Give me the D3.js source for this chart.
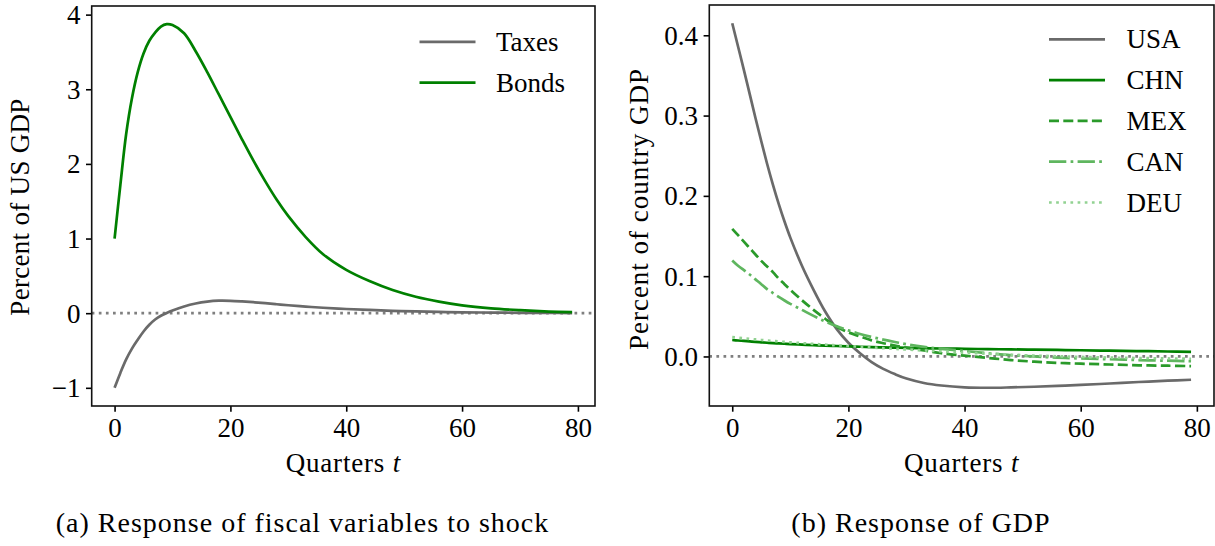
<!DOCTYPE html>
<html><head><meta charset="utf-8">
<script src="https://cdn.jsdelivr.net/npm/d3@7"></script>
<style>
body{margin:0;background:#fff}
svg text{font-family:"Liberation Serif","Times New Roman",serif;fill:#000}
</style>
</head><body>
<svg id="chart" width="1215" height="546"></svg>
<script>
// ---------- data ----------
const quarters = [0,1,2,3,4,5,6,7,8,9,10,12,14,16,18,20,22,24,26,28,30,33,36,40,44,48,52,56,60,65,70,75,79];

const taxes = [-1.00,-0.80,-0.62,-0.475,-0.355,-0.245,-0.155,-0.085,-0.035,0.002,0.035,0.09,0.13,0.155,0.167,0.166,0.158,0.147,0.134,0.12,0.106,0.088,0.073,0.056,0.043,0.032,0.024,0.017,0.012,0.008,0.005,0.003,0.002];
const bonds = [1.00,1.72,2.40,2.88,3.23,3.48,3.65,3.76,3.84,3.872,3.86,3.75,3.51,3.23,2.93,2.63,2.33,2.04,1.77,1.52,1.30,1.02,0.79,0.58,0.43,0.31,0.22,0.155,0.105,0.065,0.04,0.022,0.013];

const usa = [0.415,0.386,0.357,0.327,0.297,0.268,0.240,0.214,0.190,0.168,0.148,0.113,0.083,0.056,0.034,0.017,0.004,-0.007,-0.0155,-0.022,-0.0275,-0.033,-0.0362,-0.0385,-0.039,-0.0385,-0.0377,-0.0367,-0.0355,-0.0337,-0.0318,-0.0302,-0.029];
const chn = [0.0205,0.0199,0.0193,0.0187,0.0181,0.0176,0.0171,0.0166,0.0162,0.0158,0.0154,0.0147,0.0141,0.0135,0.013,0.0125,0.0121,0.0117,0.0113,0.011,0.0107,0.0103,0.0099,0.0095,0.0091,0.0088,0.0084,0.0081,0.0077,0.0072,0.0067,0.0062,0.0058];
const mex = [0.159,0.151,0.143,0.135,0.127,0.119,0.112,0.105,0.097,0.090,0.083,0.070,0.058,0.047,0.037,0.030,0.025,0.020,0.0165,0.0135,0.011,0.0075,0.004,0.001,-0.0018,-0.0045,-0.0065,-0.008,-0.009,-0.010,-0.011,-0.0115,-0.012];
const can = [0.1196,0.113,0.1075,0.102,0.096,0.090,0.0838,0.079,0.0742,0.0697,0.0655,0.058,0.0505,0.0435,0.0375,0.0325,0.028,0.0243,0.021,0.018,0.0152,0.012,0.0095,0.0068,0.004,0.0015,0.0,-0.0015,-0.0025,-0.0035,-0.0045,-0.0053,-0.006];
const deu = [0.024,0.0233,0.0226,0.0219,0.0212,0.0205,0.0199,0.0193,0.0187,0.0181,0.0176,0.0166,0.0156,0.0147,0.0138,0.013,0.0121,0.0112,0.0103,0.0095,0.0087,0.0075,0.0063,0.0048,0.0034,0.0022,0.0011,0.0002,-0.0006,-0.0014,-0.002,-0.0025,-0.0029];

const xTicks = [0,20,40,60,80];
const fiscalYTicks = [-1,0,1,2,3,4];
const gdpYTicks = [0.0,0.1,0.2,0.3,0.4];
const fiscalNames = ["Taxes","Bonds"];
const gdpNames = ["USA","CHN","MEX","CAN","DEU"];

// ---------- drawing ----------
const svg = d3.select("#chart");
const FS = 27;

function panel(cfg){
  const g = svg.append("g");
  const all = cfg.series.flatMap(s => s.values);
  const ext = d3.extent(all);
  const pad = (ext[1]-ext[0])*0.05;
  const xExt = d3.extent(quarters);
  const xPad = (xExt[1]-xExt[0])*0.05;
  const x = d3.scaleLinear().domain([xExt[0]-xPad, xExt[1]+xPad]).range([cfg.x0, cfg.x1]);
  const y = d3.scaleLinear().domain([ext[0]-pad, ext[1]+pad]).range([cfg.y1, cfg.y0]);

  // zero line
  g.append("line")
    .attr("x1", cfg.x0).attr("x2", cfg.x1)
    .attr("y1", y(0)).attr("y2", y(0))
    .attr("stroke", "#7f7f7f").attr("stroke-width", 2.7)
    .attr("stroke-dasharray", "2.7,4.4");

  const line = d3.line().curve(d3.curveCatmullRom.alpha(0.5))
    .x((d,i) => x(quarters[i])).y(d => y(d));

  cfg.series.forEach(s => {
    g.append("path").datum(s.values)
      .attr("d", line)
      .attr("fill", "none")
      .attr("stroke", s.color)
      .attr("stroke-width", 2.7)
      .attr("stroke-dasharray", s.dash || null);
  });

  // axes via d3
  const xAxis = d3.axisBottom(x).tickValues(xTicks).tickSize(5.7).tickPadding(7).tickFormat(d3.format("d"));
  const yAxis = d3.axisLeft(y).tickValues(cfg.yTicks).tickSize(5.7).tickPadding(5.5).tickFormat(cfg.yFormat);
  const gx = g.append("g").attr("transform", `translate(0,${cfg.y1})`).call(xAxis);
  const gy = g.append("g").attr("transform", `translate(${cfg.x0},0)`).call(yAxis);
  [gx, gy].forEach(a => {
    a.select(".domain").remove();
    a.selectAll(".tick line").attr("stroke", "#000").attr("stroke-width", 1.6);
    a.selectAll(".tick text").attr("font-size", FS).attr("font-family", "Liberation Serif").attr("fill", "#000");
  });
  gx.selectAll(".tick text").attr("dy", null).attr("y", 5.7 + 7 + 18.5);
  gy.selectAll(".tick text").attr("dy", null).attr("y", 9);

  // spines
  g.append("rect")
    .attr("x", cfg.x0).attr("y", cfg.y0)
    .attr("width", cfg.x1 - cfg.x0).attr("height", cfg.y1 - cfg.y0)
    .attr("fill", "none").attr("stroke", "#111").attr("stroke-width", 1.6);

  // labels
  g.append("text")
    .attr("x", (cfg.x0+cfg.x1)/2).attr("y", 472)
    .attr("text-anchor", "middle").attr("font-size", FS).attr("letter-spacing", "0.8px")
    .html('Quarters <tspan font-style="italic">t</tspan>');
  g.append("text")
    .attr("transform", `translate(${cfg.ylabelX},${cfg.ylabelY}) rotate(-90)`)
    .attr("text-anchor", "middle").attr("font-size", FS).attr("letter-spacing", cfg.ylabelSpacing)
    .text(cfg.ylabel);

  // legend
  cfg.series.forEach((s, i) => {
    const ry = cfg.legY + i*40.8;
    g.append("line")
      .attr("x1", cfg.legLine0).attr("x2", cfg.legLine0 + 56)
      .attr("y1", ry).attr("y2", ry)
      .attr("stroke", s.color).attr("stroke-width", 2.7)
      .attr("stroke-dasharray", s.dash || null);
    g.append("text")
      .attr("x", cfg.legText).attr("y", ry + 9)
      .attr("font-size", FS)
      .text(s.name);
  });

  // caption
  svg.append("text")
    .attr("x", cfg.capX).attr("y", 532)
    .attr("text-anchor", "middle").attr("font-size", 28).attr("letter-spacing", "1px")
    .text(cfg.caption);
}

const minusFmt = d => d < 0 ? "\u2212" + Math.abs(d) : String(d);

panel({
  x0: 91.7, x1: 595, y0: 6, y1: 406,
  series: [
    {name: fiscalNames[0], values: taxes, color: "#6a6a6a"},
    {name: fiscalNames[1], values: bonds, color: "#008000"}
  ],
  yTicks: fiscalYTicks, yFormat: minusFmt,
  ylabel: "Percent of US GDP", ylabelX: 29, ylabelY: 207, ylabelSpacing: "0.3px",
  legY: 41.8, legLine0: 419.5, legText: 496,
  caption: "(a) Response of fiscal variables to shock", capX: 302.5
});

panel({
  x0: 709.3, x1: 1214, y0: 5, y1: 406,
  series: [
    {name: gdpNames[0], values: usa, color: "#6a6a6a"},
    {name: gdpNames[1], values: chn, color: "#008000"},
    {name: gdpNames[2], values: mex, color: "#2a9a2a", dash: "10,4.3"},
    {name: gdpNames[3], values: can, color: "#5fb65f", dash: "17.3,4.3,2.7,4.3"},
    {name: gdpNames[4], values: deu, color: "#92d292", dash: "2.7,4.45"}
  ],
  yTicks: gdpYTicks, yFormat: d3.format(".1f"),
  ylabel: "Percent of country GDP", ylabelX: 648, ylabelY: 209, ylabelSpacing: "1px",
  legY: 39.3, legLine0: 1049, legText: 1126.5,
  caption: "(b) Response of GDP", capX: 921
});
</script>
</body></html>
